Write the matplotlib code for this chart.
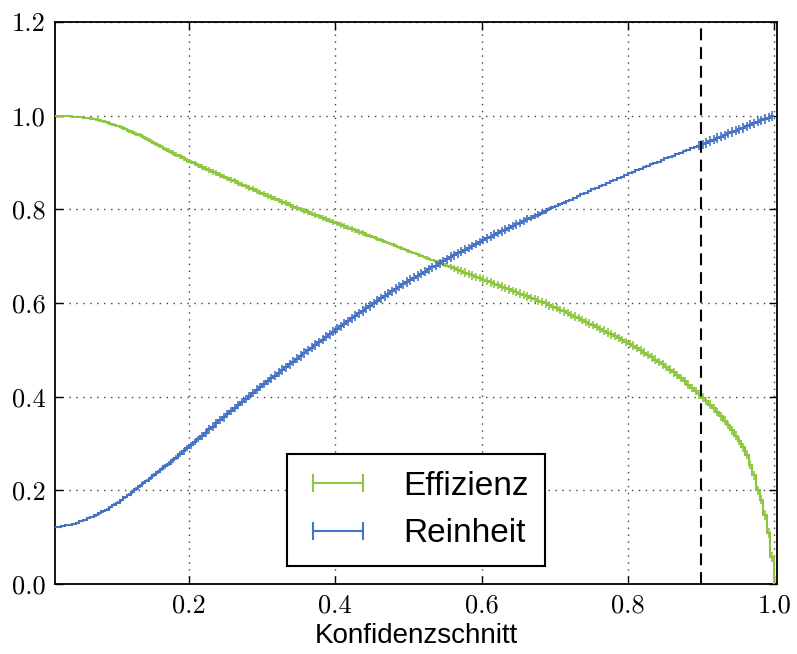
import numpy as np
import matplotlib
matplotlib.use("Agg")
import matplotlib.pyplot as plt
from matplotlib.lines import Line2D

# Histogrammierte Effizienz und Reinheit in Abhaengigkeit vom Konfidenzschnitt
# 197 Bins der Breite 0.005 zwischen 0.015 und 1.0
bin_lo, bin_hi, n_bins = 0.015, 1.0, 197

effizienz = [
    1.000, 1.000, 1.000, 0.999, 0.999, 0.998, 0.998, 0.997, 0.996, 0.995,
    0.994, 0.992, 0.990, 0.988, 0.986, 0.983, 0.981, 0.978, 0.975, 0.972,
    0.968, 0.965, 0.961, 0.958, 0.954, 0.950, 0.946, 0.942, 0.938, 0.934,
    0.929, 0.925, 0.921, 0.917, 0.913, 0.909, 0.905, 0.901, 0.898, 0.894,
    0.891, 0.887, 0.884, 0.880, 0.877, 0.873, 0.870, 0.866, 0.863, 0.860,
    0.856, 0.853, 0.849, 0.846, 0.843, 0.839, 0.836, 0.833, 0.829, 0.826,
    0.823, 0.819, 0.816, 0.813, 0.810, 0.806, 0.803, 0.800, 0.797, 0.794,
    0.791, 0.788, 0.785, 0.782, 0.779, 0.776, 0.773, 0.770, 0.767, 0.764,
    0.761, 0.758, 0.755, 0.752, 0.749, 0.746, 0.743, 0.740, 0.737, 0.734,
    0.731, 0.728, 0.725, 0.722, 0.719, 0.716, 0.713, 0.710, 0.707, 0.704,
    0.701, 0.698, 0.695, 0.692, 0.689, 0.686, 0.683, 0.680, 0.677, 0.674,
    0.671, 0.668, 0.665, 0.662, 0.659, 0.656, 0.653, 0.650, 0.647, 0.644,
    0.641, 0.638, 0.635, 0.632, 0.629, 0.626, 0.623, 0.620, 0.617, 0.614,
    0.611, 0.608, 0.605, 0.602, 0.599, 0.595, 0.592, 0.589, 0.585, 0.582,
    0.579, 0.575, 0.571, 0.568, 0.564, 0.560, 0.556, 0.553, 0.549, 0.545,
    0.541, 0.537, 0.533, 0.529, 0.525, 0.521, 0.517, 0.513, 0.509, 0.504,
    0.499, 0.494, 0.489, 0.484, 0.479, 0.474, 0.469, 0.463, 0.458, 0.452,
    0.446, 0.440, 0.433, 0.426, 0.419, 0.412, 0.405, 0.398, 0.391, 0.383,
    0.375, 0.367, 0.358, 0.349, 0.339, 0.328, 0.317, 0.305, 0.292, 0.276,
    0.255, 0.232, 0.200, 0.180, 0.147, 0.109, 0.058,
]

effizienz_err = [
    0.001, 0.001, 0.001, 0.001, 0.001, 0.001, 0.001, 0.001, 0.002, 0.002,
    0.003, 0.003, 0.003, 0.003, 0.003, 0.003, 0.003, 0.003, 0.003, 0.003,
    0.004, 0.004, 0.004, 0.004, 0.004, 0.004, 0.004, 0.004, 0.004, 0.004,
    0.005, 0.005, 0.005, 0.005, 0.005, 0.005, 0.005, 0.005, 0.005, 0.005,
    0.006, 0.006, 0.006, 0.006, 0.006, 0.006, 0.006, 0.006, 0.006, 0.006,
    0.006, 0.006, 0.006, 0.006, 0.006, 0.006, 0.006, 0.006, 0.006, 0.006,
    0.006, 0.006, 0.006, 0.006, 0.006, 0.006, 0.006, 0.006, 0.006, 0.006,
    0.006, 0.006, 0.006, 0.006, 0.006, 0.006, 0.006, 0.006, 0.006, 0.006,
    0.006, 0.006, 0.006, 0.006, 0.006, 0.006, 0.005, 0.004, 0.004, 0.004,
    0.003, 0.003, 0.003, 0.003, 0.003, 0.003, 0.003, 0.003, 0.003, 0.003,
    0.003, 0.003, 0.003, 0.003, 0.003, 0.003, 0.003, 0.004, 0.006, 0.007,
    0.009, 0.009, 0.009, 0.009, 0.009, 0.009, 0.009, 0.009, 0.009, 0.009,
    0.009, 0.009, 0.009, 0.009, 0.009, 0.009, 0.009, 0.009, 0.009, 0.009,
    0.009, 0.009, 0.009, 0.009, 0.009, 0.009, 0.009, 0.009, 0.009, 0.009,
    0.009, 0.009, 0.009, 0.009, 0.009, 0.009, 0.009, 0.009, 0.009, 0.009,
    0.009, 0.009, 0.009, 0.009, 0.009, 0.009, 0.009, 0.009, 0.009, 0.009,
    0.009, 0.009, 0.009, 0.009, 0.009, 0.009, 0.009, 0.009, 0.009, 0.009,
    0.009, 0.009, 0.009, 0.009, 0.009, 0.009, 0.009, 0.009, 0.009, 0.009,
    0.009, 0.009, 0.009, 0.009, 0.009, 0.009, 0.009, 0.009, 0.010, 0.010,
    0.010, 0.010, 0.010, 0.010, 0.010, 0.010, 0.010,
]

reinheit = [
    0.121, 0.122, 0.123, 0.125, 0.127, 0.129, 0.131, 0.134, 0.137, 0.140,
    0.143, 0.147, 0.151, 0.155, 0.159, 0.164, 0.169, 0.174, 0.179, 0.185,
    0.191, 0.197, 0.203, 0.209, 0.215, 0.221, 0.227, 0.233, 0.239, 0.245,
    0.251, 0.257, 0.264, 0.270, 0.277, 0.283, 0.290, 0.296, 0.303, 0.310,
    0.316, 0.323, 0.330, 0.336, 0.343, 0.350, 0.356, 0.363, 0.369, 0.376,
    0.382, 0.389, 0.395, 0.402, 0.408, 0.415, 0.421, 0.427, 0.433, 0.439,
    0.445, 0.451, 0.457, 0.463, 0.469, 0.475, 0.481, 0.487, 0.493, 0.499,
    0.505, 0.510, 0.516, 0.522, 0.528, 0.533, 0.539, 0.545, 0.550, 0.556,
    0.561, 0.567, 0.572, 0.578, 0.583, 0.589, 0.594, 0.599, 0.605, 0.610,
    0.615, 0.620, 0.625, 0.630, 0.635, 0.640, 0.645, 0.649, 0.654, 0.658,
    0.663, 0.667, 0.672, 0.676, 0.680, 0.685, 0.689, 0.693, 0.698, 0.702,
    0.706, 0.710, 0.714, 0.718, 0.722, 0.726, 0.730, 0.734, 0.738, 0.742,
    0.746, 0.749, 0.753, 0.757, 0.760, 0.764, 0.768, 0.771, 0.775, 0.779,
    0.782, 0.786, 0.789, 0.793, 0.796, 0.800, 0.804, 0.807, 0.811, 0.814,
    0.818, 0.821, 0.825, 0.829, 0.832, 0.836, 0.839, 0.843, 0.846, 0.850,
    0.853, 0.857, 0.860, 0.863, 0.867, 0.870, 0.874, 0.877, 0.880, 0.884,
    0.887, 0.890, 0.893, 0.896, 0.899, 0.902, 0.905, 0.909, 0.912, 0.915,
    0.918, 0.921, 0.924, 0.927, 0.930, 0.933, 0.936, 0.939, 0.942, 0.946,
    0.949, 0.952, 0.955, 0.958, 0.962, 0.965, 0.968, 0.971, 0.974, 0.977,
    0.981, 0.984, 0.987, 0.990, 0.993, 0.996, 0.999,
]

reinheit_err = [
    0.001, 0.001, 0.001, 0.001, 0.001, 0.001, 0.001, 0.002, 0.002, 0.002,
    0.003, 0.003, 0.003, 0.003, 0.003, 0.003, 0.003, 0.003, 0.003, 0.003,
    0.004, 0.004, 0.004, 0.004, 0.004, 0.004, 0.004, 0.004, 0.004, 0.004,
    0.006, 0.006, 0.006, 0.006, 0.006, 0.007, 0.007, 0.007, 0.007, 0.007,
    0.009, 0.009, 0.009, 0.009, 0.009, 0.009, 0.009, 0.009, 0.009, 0.009,
    0.009, 0.009, 0.009, 0.009, 0.009, 0.009, 0.009, 0.009, 0.009, 0.009,
    0.010, 0.010, 0.010, 0.010, 0.010, 0.010, 0.010, 0.010, 0.010, 0.010,
    0.010, 0.010, 0.010, 0.010, 0.010, 0.010, 0.010, 0.010, 0.010, 0.010,
    0.010, 0.010, 0.010, 0.010, 0.010, 0.010, 0.010, 0.010, 0.010, 0.010,
    0.010, 0.010, 0.010, 0.010, 0.010, 0.010, 0.010, 0.010, 0.010, 0.010,
    0.010, 0.010, 0.010, 0.010, 0.010, 0.010, 0.010, 0.010, 0.010, 0.010,
    0.009, 0.009, 0.009, 0.009, 0.009, 0.009, 0.009, 0.009, 0.009, 0.009,
    0.009, 0.009, 0.009, 0.009, 0.009, 0.009, 0.009, 0.009, 0.009, 0.009,
    0.007, 0.007, 0.007, 0.006, 0.006, 0.004, 0.004, 0.003, 0.003, 0.003,
    0.002, 0.002, 0.002, 0.002, 0.002, 0.002, 0.002, 0.002, 0.002, 0.002,
    0.001, 0.001, 0.001, 0.001, 0.001, 0.001, 0.001, 0.001, 0.001, 0.001,
    0.001, 0.001, 0.001, 0.001, 0.001, 0.001, 0.001, 0.001, 0.001, 0.001,
    0.001, 0.001, 0.001, 0.001, 0.001, 0.001, 0.010, 0.010, 0.010, 0.010,
    0.010, 0.010, 0.010, 0.010, 0.010, 0.010, 0.010, 0.010, 0.010, 0.010,
    0.010, 0.010, 0.010, 0.010, 0.010, 0.010, 0.010,
]

schnitt = 0.9

xticks = [0.2, 0.4, 0.6, 0.8, 1.0]
xticklabels = ["0.2", "0.4", "0.6", "0.8", "1.0"]
yticks = [0.0, 0.2, 0.4, 0.6, 0.8, 1.0, 1.2]
yticklabels = ["0.0", "0.2", "0.4", "0.6", "0.8", "1.0", "1.2"]

gruen = "#8dc63f"
blau = "#4572c4"
sans = "Liberation Sans"

edges = np.linspace(bin_lo, bin_hi, n_bins + 1)
centers = 0.5 * (edges[1:] + edges[:-1])

fig = plt.figure(figsize=(7.97, 6.54), dpi=100)
ax = fig.add_axes([0.069, 0.107, 0.906, 0.8593])

ax.stairs(effizienz, edges, baseline=0, color=gruen, lw=1.5, zorder=3)
ax.errorbar(centers, effizienz, yerr=effizienz_err, fmt="none",
            ecolor=gruen, elinewidth=1.2, capsize=0, zorder=3)
ax.stairs(reinheit, edges, baseline=None, color=blau, lw=1.5, zorder=4)
ax.errorbar(centers, reinheit, yerr=reinheit_err, fmt="none",
            ecolor=blau, elinewidth=1.2, capsize=0, zorder=4)

ax.axvline(schnitt, color="black", lw=1.5, ls=(0, (5.7, 3.3)), zorder=5)

ax.set_xlim(0.0167, 1.004)
ax.set_ylim(0.0, 1.2)
ax.set_xticks(xticks, xticklabels)
ax.set_yticks(yticks, yticklabels)
for lbl in ax.get_xticklabels() + ax.get_yticklabels():
    lbl.set_fontfamily("cmr10")
ax.tick_params(direction="in", length=6, width=1.0, top=True, right=True,
               labelsize=19, pad=7)
ax.grid(True, color="black", lw=1.0, ls=(0, (1, 4)), alpha=0.75)
for sp in ax.spines.values():
    sp.set_linewidth(1.3)

ax.set_xlabel("Konfidenzschnitt", fontsize=20, fontfamily=sans, labelpad=4)

handles = [
    Line2D([], [], color=gruen, lw=1.5, marker="|", markersize=12.5, mew=1.5),
    Line2D([], [], color=blau, lw=1.5, marker="|", markersize=12.5, mew=1.5),
]
leg = ax.legend(handles, ["Effizienz", "Reinheit"], loc="lower center",
                bbox_to_anchor=(0.5, 0.032), borderaxespad=0, numpoints=2,
                prop={"family": sans, "size": 24}, handlelength=2.1,
                handletextpad=0.9, borderpad=0.5, labelspacing=0.5,
                fancybox=False, framealpha=1, edgecolor="black")
leg.get_frame().set_linewidth(1.5)

fig.savefig("out.png", dpi=100)
